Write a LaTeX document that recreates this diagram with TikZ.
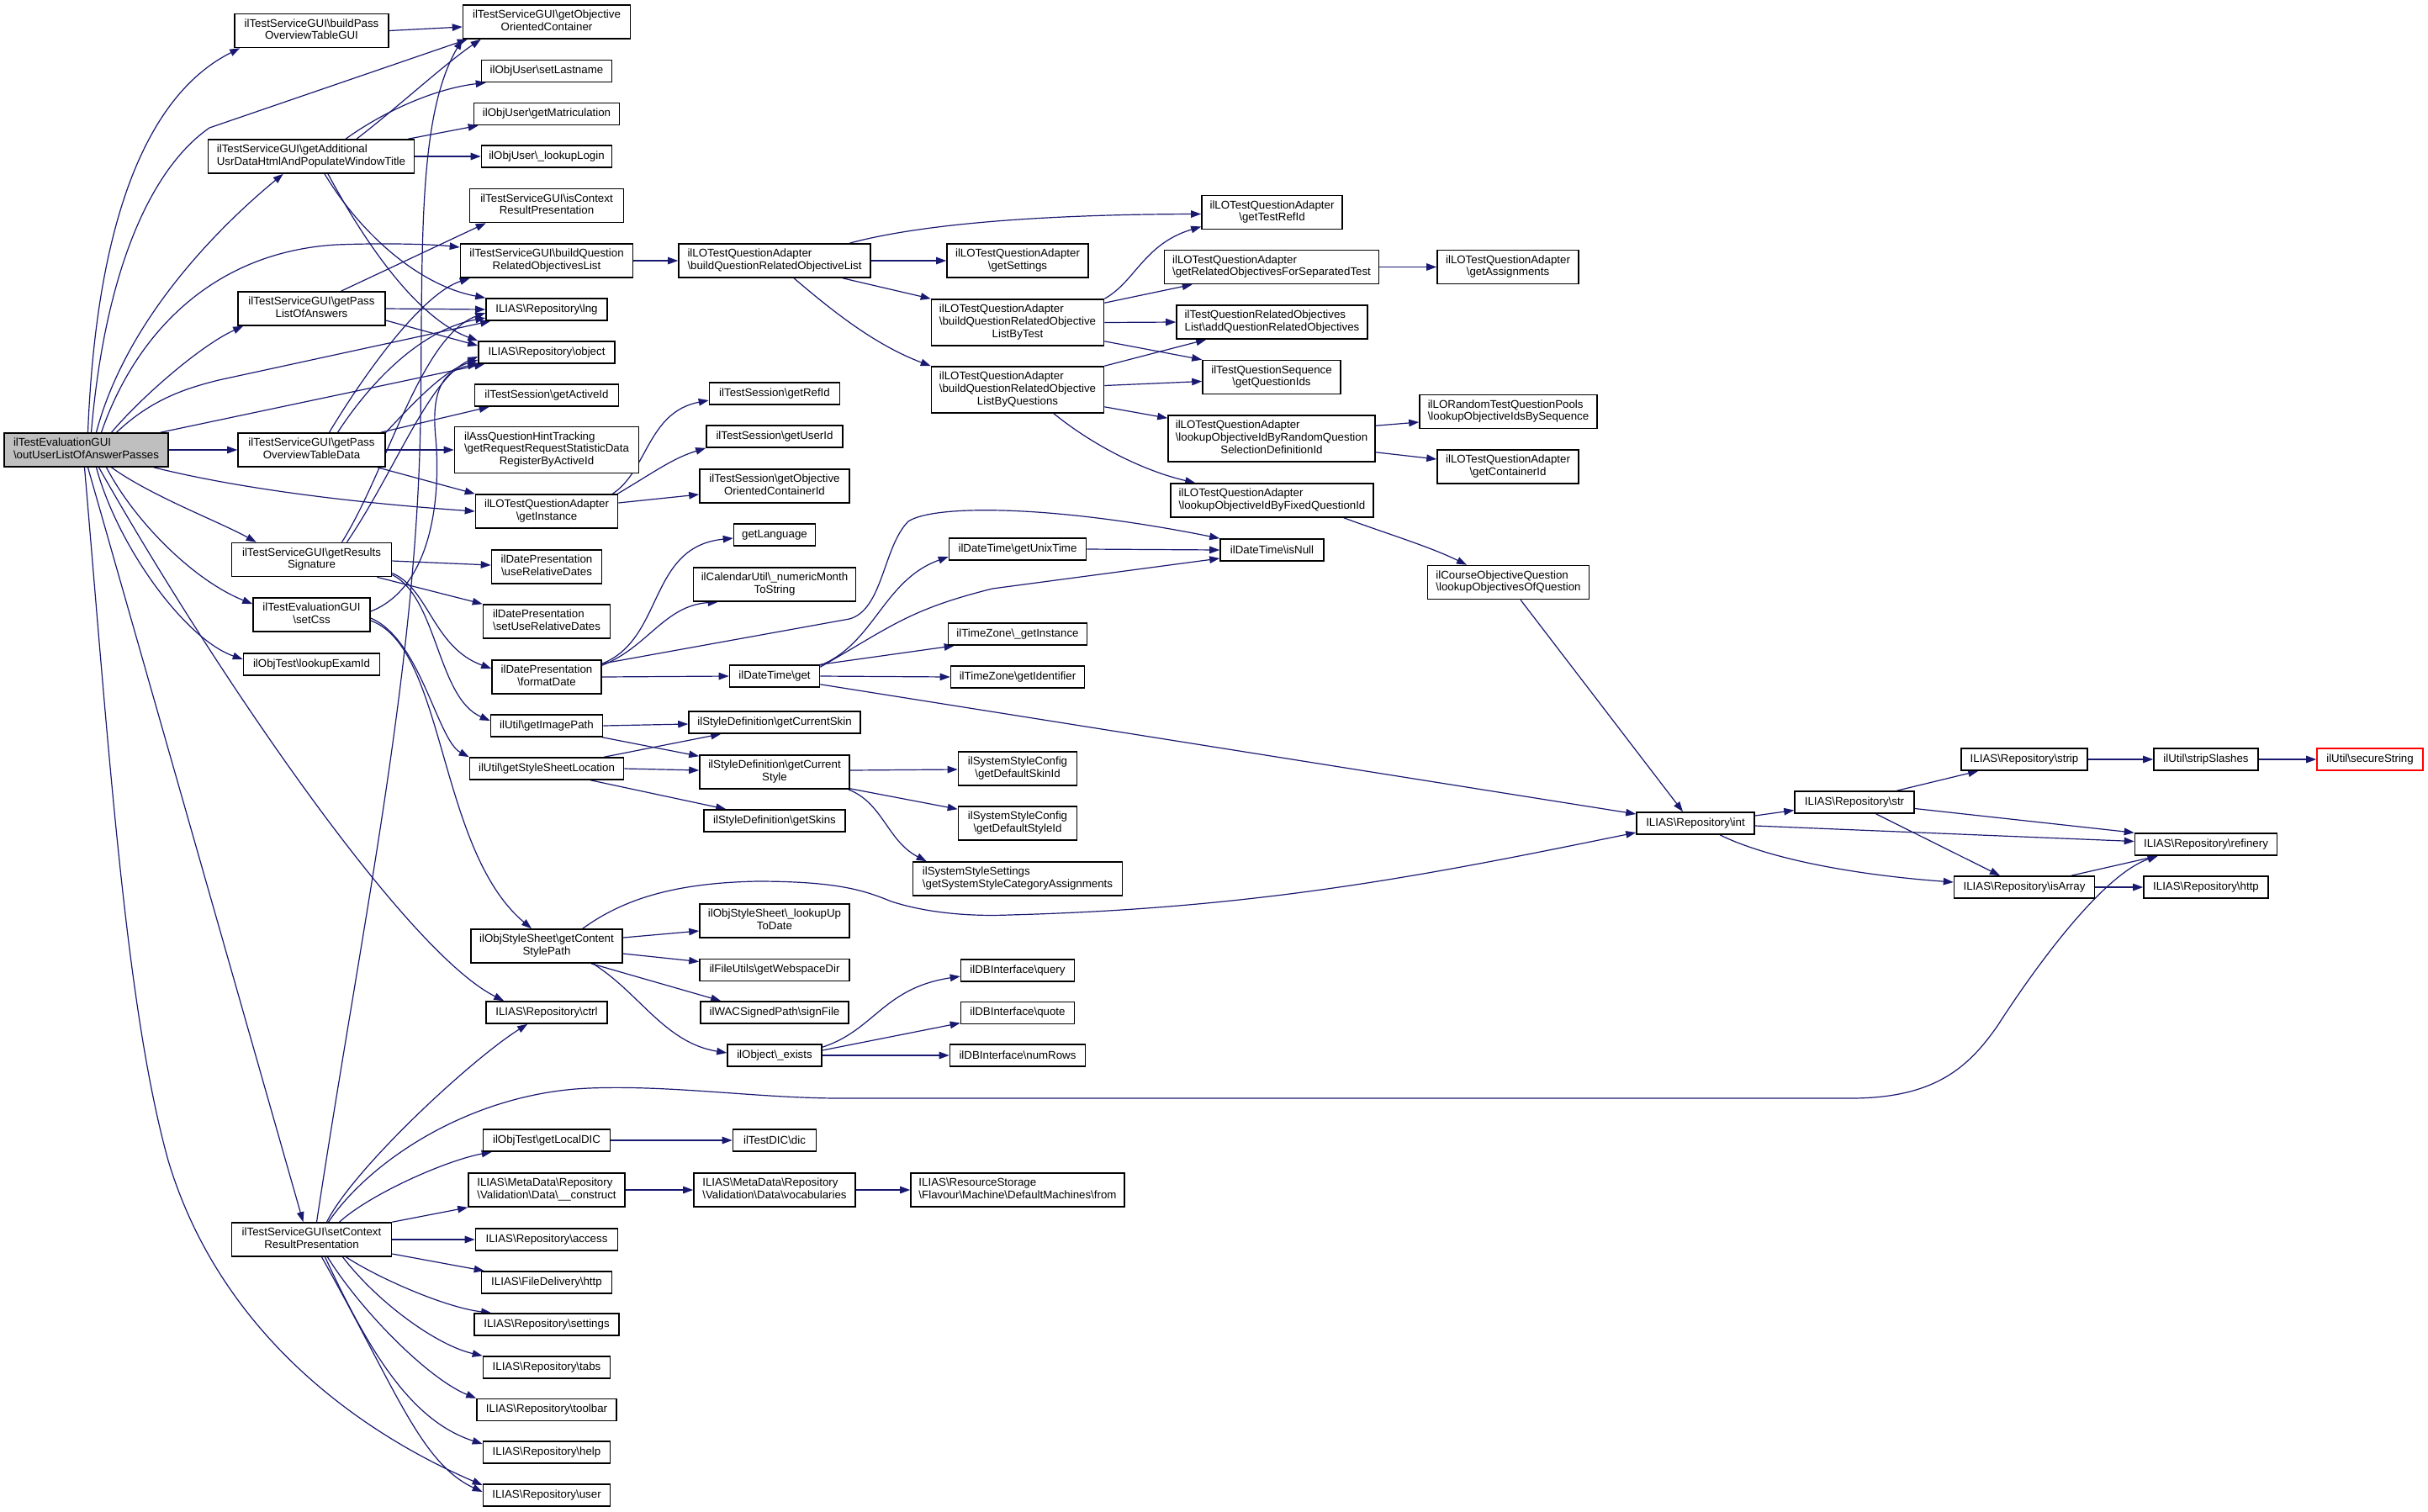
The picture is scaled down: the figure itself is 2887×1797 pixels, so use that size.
\documentclass[tikz,border=0pt]{standalone}
\usepackage{fontspec}
\setmainfont{Liberation Sans}
\usetikzlibrary{arrows.meta,calc}
\definecolor{edgecol}{HTML}{191970}
\definecolor{rootfill}{HTML}{BFBFBF}
\newcommand\BSL{\textbackslash}
\newcommand\twol[2]{\begin{tabular}{@{}l@{}}#1\\\multicolumn{1}{@{}c@{}}{#2}\end{tabular}}
\newcommand\threel[3]{\begin{tabular}{@{}l@{}}#1\\#2\\\multicolumn{1}{@{}c@{}}{#3}\end{tabular}}
\pgfdeclarelayer{bg}
\pgfsetlayers{bg,main}
\tikzset{
 box/.style={draw=black, line width=1.6pt, fill=white, inner sep=0pt, minimum height=26pt, font=\fontsize{13.3}{14.6}\selectfont, anchor=center},
 boxb/.style={box, minimum height=40pt},
 boxc/.style={box, minimum height=55pt},
 e/.style={draw=edgecol, line width=1.2pt, -{Triangle[length=12pt,width=8.5pt]}},
}
\begin{document}
\begin{tikzpicture}[x=1pt,y=-1pt]
\useasboundingbox (0,0) rectangle (2887,1797);
% rank 0
\node[boxb, fill=rootfill, minimum width=195pt] (root) at (102.5,535) {\twol{ilTestEvaluationGUI}{\BSL outUserListOfAnswerPasses}};
% rank 1
\node[boxb, minimum width=183pt] (bp) at (370.5,36.5) {\twol{ilTestServiceGUI\BSL buildPass}{OverviewTableGUI}};
\node[boxb, minimum width=245pt] (ga) at (370,186) {\twol{ilTestServiceGUI\BSL getAdditional}{UsrDataHtmlAndPopulateWindowTitle}};
\node[boxb, minimum width=175pt] (pl) at (370.5,367) {\twol{ilTestServiceGUI\BSL getPass}{ListOfAnswers}};
\node[boxb, minimum width=175pt] (po) at (370.5,535) {\twol{ilTestServiceGUI\BSL getPass}{OverviewTableData}};
\node[boxb, minimum width=190pt] (rs) at (370.5,665.5) {\twol{ilTestServiceGUI\BSL getResults}{Signature}};
\node[boxb, minimum width=139pt] (sc) at (370.5,731) {\twol{ilTestEvaluationGUI}{\BSL setCss}};
\node[box, minimum width=162pt] (le) at (370.5,790) {ilObjTest\BSL lookupExamId};
\node[boxb, minimum width=190pt] (cr) at (370.5,1474) {\twol{ilTestServiceGUI\BSL setContext}{ResultPresentation}};
% rank 2
\node[boxb, minimum width=199pt] (oc) at (650,26) {\twol{ilTestServiceGUI\BSL getObjective}{OrientedContainer}};
\node[box, minimum width=155pt] (sl) at (650,84.5) {ilObjUser\BSL setLastname};
\node[box, minimum width=173pt] (gm) at (650,135.5) {ilObjUser\BSL getMatriculation};
\node[box, minimum width=155pt] (ll) at (650,186) {ilObjUser\BSL\_lookupLogin};
\node[boxb, minimum width=183pt] (ic) at (650,244.5) {\twol{ilTestServiceGUI\BSL isContext}{ResultPresentation}};
\node[boxb, minimum width=205pt] (bq) at (650,310) {\twol{ilTestServiceGUI\BSL buildQuestion}{RelatedObjectivesList}};
\node[box, minimum width=144pt] (lng) at (650,368) {ILIAS\BSL Repository\BSL lng};
\node[box, minimum width=162pt] (obj) at (650,419) {ILIAS\BSL Repository\BSL object};
\node[box, minimum width=171pt] (ai) at (650,470) {ilTestSession\BSL getActiveId};
\node[boxc, minimum width=219pt] (ah) at (650,535) {\threel{ilAssQuestionHintTracking}{\BSL getRequestRequestStatisticData}{RegisterByActiveId}};
\node[boxb, minimum width=169pt] (gi) at (650,608) {\twol{ilLOTestQuestionAdapter}{\BSL getInstance}};
\node[boxb, minimum width=131pt] (ur) at (650,674) {\twol{ilDatePresentation}{\BSL useRelativeDates}};
\node[boxb, minimum width=151pt] (su) at (650,739) {\twol{ilDatePresentation}{\BSL setUseRelativeDates}};
\node[boxb, minimum width=130pt] (fd) at (650,805) {\twol{ilDatePresentation}{\BSL formatDate}};
\node[box, minimum width=133pt] (ip) at (650,863) {ilUtil\BSL getImagePath};
\node[box, minimum width=183pt] (ss) at (650,914) {ilUtil\BSL getStyleSheetLocation};
\node[boxb, minimum width=180pt] (cs) at (650,1125) {\twol{ilObjStyleSheet\BSL getContent}{StylePath}};
\node[box, minimum width=144pt] (ctrl) at (650,1204) {ILIAS\BSL Repository\BSL ctrl};
\node[box, minimum width=151pt] (ld) at (650,1356) {ilObjTest\BSL getLocalDIC};
\node[boxb, minimum width=186pt] (mc) at (650,1415) {\twol{ILIAS\BSL MetaData\BSL Repository}{\BSL Validation\BSL Data\BSL\_\_construct}};
\node[box, minimum width=169pt] (acc) at (650,1474) {ILIAS\BSL Repository\BSL access};
\node[box, minimum width=155pt] (fh) at (650,1525) {ILIAS\BSL FileDelivery\BSL http};
\node[box, minimum width=172pt] (set) at (650,1575) {ILIAS\BSL Repository\BSL settings};
\node[box, minimum width=151pt] (tabs) at (650,1626) {ILIAS\BSL Repository\BSL tabs};
\node[box, minimum width=166pt] (tb) at (650,1676.5) {ILIAS\BSL Repository\BSL toolbar};
\node[box, minimum width=151pt] (help) at (650,1727) {ILIAS\BSL Repository\BSL help};
\node[box, minimum width=151pt] (user) at (650,1778) {ILIAS\BSL Repository\BSL user};
% rank 3
\node[boxb, minimum width=228pt] (bl) at (921,310) {\twol{ilLOTestQuestionAdapter}{\BSL buildQuestionRelatedObjectiveList}};
\node[box, minimum width=155pt] (sri) at (921,468) {ilTestSession\BSL getRefId};
\node[box, minimum width=162pt] (sui) at (921,519) {ilTestSession\BSL getUserId};
\node[boxb, minimum width=178pt] (soc) at (921,578) {\twol{ilTestSession\BSL getObjective}{OrientedContainerId}};
\node[box, minimum width=97pt] (lang) at (921,636) {getLanguage};
\node[boxb, minimum width=193pt] (nm) at (921,695) {\twol{ilCalendarUtil\BSL\_numericMonth}{ToString}};
\node[box, minimum width=107pt] (dtg) at (921,804) {ilDateTime\BSL get};
\node[box, minimum width=204pt] (csk) at (921,859) {ilStyleDefinition\BSL getCurrentSkin};
\node[boxb, minimum width=178pt] (cst) at (921,918) {\twol{ilStyleDefinition\BSL getCurrent}{Style}};
\node[box, minimum width=168pt] (sk) at (921,976) {ilStyleDefinition\BSL getSkins};
\node[boxb, minimum width=178pt] (lu) at (921,1095) {\twol{ilObjStyleSheet\BSL\_lookupUp}{ToDate}};
\node[box, minimum width=178pt] (wd) at (921,1153.5) {ilFileUtils\BSL getWebspaceDir};
\node[box, minimum width=176pt] (sf) at (921,1204) {ilWACSignedPath\BSL signFile};
\node[box, minimum width=112pt] (ex) at (921,1255) {ilObject\BSL\_exists};
\node[box, minimum width=99pt] (dic) at (921,1356) {ilTestDIC\BSL dic};
\node[boxb, minimum width=192pt] (voc) at (921,1415) {\twol{ILIAS\BSL MetaData\BSL Repository}{\BSL Validation\BSL Data\BSL vocabularies}};
% rank 4
\node[boxb, minimum width=168pt] (gs) at (1210,310) {\twol{ilLOTestQuestionAdapter}{\BSL getSettings}};
\node[boxc, minimum width=205pt] (bt) at (1210,383.5) {\threel{ilLOTestQuestionAdapter}{\BSL buildQuestionRelatedObjective}{ListByTest}};
\node[boxc, minimum width=205pt] (bqq) at (1210,463.5) {\threel{ilLOTestQuestionAdapter}{\BSL buildQuestionRelatedObjective}{ListByQuestions}};
\node[box, minimum width=163pt] (ut) at (1210,653) {ilDateTime\BSL getUnixTime};
\node[box, minimum width=165pt] (tzi) at (1210,754) {ilTimeZone\BSL\_getInstance};
\node[box, minimum width=159pt] (tzid) at (1210,805) {ilTimeZone\BSL getIdentifier};
\node[boxb, minimum width=141pt] (dsk) at (1210,914) {\twol{ilSystemStyleConfig}{\BSL getDefaultSkinId}};
\node[boxb, minimum width=141pt] (dst) at (1210,979) {\twol{ilSystemStyleConfig}{\BSL getDefaultStyleId}};
\node[boxb, minimum width=249pt] (sca) at (1210,1045) {\twol{ilSystemStyleSettings}{\BSL getSystemStyleCategoryAssignments}};
\node[box, minimum width=135pt] (q) at (1210,1154) {ilDBInterface\BSL query};
\node[box, minimum width=135pt] (qt) at (1210,1204.5) {ilDBInterface\BSL quote};
\node[box, minimum width=161pt] (nr) at (1210,1255) {ilDBInterface\BSL numRows};
\node[boxb, minimum width=254pt] (from) at (1210,1415) {\twol{ILIAS\BSL ResourceStorage}{\BSL Flavour\BSL Machine\BSL DefaultMachines\BSL from}};
% rank 5
\node[boxb, minimum width=167pt] (tr) at (1512.5,252.5) {\twol{ilLOTestQuestionAdapter}{\BSL getTestRefId}};
\node[boxb, minimum width=255pt] (ro) at (1512,317.5) {\twol{ilLOTestQuestionAdapter}{\BSL getRelatedObjectivesForSeparatedTest}};
\node[boxb, minimum width=227pt] (aq) at (1512.5,383) {\twol{ilTestQuestionRelatedObjectives}{List\BSL addQuestionRelatedObjectives}};
\node[boxb, minimum width=164pt] (qi) at (1512,448.5) {\twol{ilTestQuestionSequence}{\BSL getQuestionIds}};
\node[boxc, minimum width=246pt] (lr) at (1512,521.5) {\threel{ilLOTestQuestionAdapter}{\BSL lookupObjectiveIdByRandomQuestion}{SelectionDefinitionId}};
\node[boxb, minimum width=241pt] (lf) at (1512.5,595) {\twol{ilLOTestQuestionAdapter}{\BSL lookupObjectiveIdByFixedQuestionId}};
\node[box, minimum width=123pt] (isn) at (1512.5,654) {ilDateTime\BSL isNull};
% rank 6
\node[boxb, minimum width=168pt] (ga2) at (1793,317.5) {\twol{ilLOTestQuestionAdapter}{\BSL getAssignments}};
\node[boxb, minimum width=211pt] (los) at (1793.5,489.5) {\twol{ilLORandomTestQuestionPools}{\BSL lookupObjectiveIdsBySequence}};
\node[boxb, minimum width=168pt] (ci) at (1793,555) {\twol{ilLOTestQuestionAdapter}{\BSL getContainerId}};
\node[boxb, minimum width=192pt] (coq) at (1793.5,692.5) {\twol{ilCourseObjectiveQuestion}{\BSL lookupObjectivesOfQuestion}};
% right part
\node[box, minimum width=140pt] (int) at (2016,979) {ILIAS\BSL Repository\BSL int};
\node[box, minimum width=142pt] (str) at (2205,954) {ILIAS\BSL Repository\BSL str};
\node[box, minimum width=150pt] (strip) at (2407,903) {ILIAS\BSL Repository\BSL strip};
\node[box, minimum width=167pt] (isArr) at (2407,1055) {ILIAS\BSL Repository\BSL isArray};
\node[box, minimum width=124pt] (sls) at (2623,903) {ilUtil\BSL stripSlashes};
\node[box, minimum width=169pt] (ref) at (2623,1004) {ILIAS\BSL Repository\BSL refinery};
\node[box, minimum width=148pt] (http) at (2623,1055) {ILIAS\BSL Repository\BSL http};
\node[box, draw=red, minimum width=126pt] (sec) at (2818,903) {ilUtil\BSL secureString};

\begin{pgfonlayer}{bg}
% root
\draw[e] ($(root.north)+(2,0)$) .. controls (115,250) and (180,110) .. ($(bp.south west)+(7,0)$);
\draw[e] ($(root.north)+(6,0)$) .. controls (125,320) and (180,200) .. (249,152) -- ($(oc.south west)+(6,0)$);
\draw[e] ($(root.north)+(12,0)$) .. controls (150,380) and (260,270) .. ($(ga.south west)+(90,0)$);
\draw[e] ($(root.north)+(18,0)$) .. controls (160,400) and (250,300) .. (400,291) .. controls (450,289) and (510,290) .. ($(bq.west)+(0,-16)$);
\draw[e] ($(root.north)+(30,0)$) .. controls (170,470) and (240,410) .. ($(pl.south west)+(7,0)$);
\draw[e] ($(root.north)+(36,0)$) .. controls (180,475) and (220,462) .. (260,452) -- ($(lng.south west)+(6,0)$);
\draw[e] ($(root.north east)+(-10,0)$) -- ($(obj.south west)+(8,0)$);
\draw[e] (root.east) -- (po.west);
\draw[e] ($(root.south east)+(-18,0)$) .. controls (300,585) and (450,600) .. (gi.west);
\draw[e] ($(root.south)+(30,0)$) .. controls (180,590) and (260,620) .. ($(rs.north west)+(30,0)$);
\draw[e] ($(root.south)+(24,0)$) .. controls (160,620) and (230,690) .. ($(sc.north west)+(0,8)$);
\draw[e] ($(root.south)+(12,0)$) .. controls (140,650) and (220,760) .. ($(le.west)+(0,-6)$);
\draw[e] ($(root.south)+(15,0)$) .. controls (250,790) and (480,1130) .. ($(ctrl.north west)+(22,0)$);
\draw[e] ($(root.south)+(2,0)$) -- ($(cr.north)+(-10,0)$);
\draw[e] ($(root.south)+(-2,0)$) .. controls (130,900) and (150,1200) .. (200,1380) .. controls (260,1580) and (420,1700) .. ($(user.west)+(0,-12)$);
% bp
\draw[e] (bp.east) -- ($(oc.west)+(0,6)$);
% ga
\draw[e] ($(ga.north)+(54,0)$) .. controls (470,130) and (530,75) .. ($(oc.south west)+(22,0)$);
\draw[e] ($(ga.north)+(41,0)$) .. controls (460,130) and (520,105) .. ($(sl.south west)+(6,0)$);
\draw[e] ($(ga.north east)+(-8,0)$) -- ($(gm.south west)+(6,0)$);
\draw[e] (ga.east) -- (ll.west);
\draw[e] ($(ga.south)+(16,0)$) .. controls (430,280) and (500,340) .. (lng.north west);
\draw[e] ($(ga.south)+(20,0)$) .. controls (440,300) and (500,380) .. (obj.north west);
% pl
\draw[e] ($(pl.north)+(35,0)$) -- ($(ic.south west)+(20,0)$);
\draw[e] (pl.east) -- (lng.west);
\draw[e] ($(pl.east)+(0,14)$) -- ($(obj.west)+(0,-8)$);
% po
\draw[e] ($(po.north east)+(-6,0)$) -- ($(ai.south west)+(18,0)$);
\draw[e] (po.east) -- (ah.west);
\draw[e] ($(po.south east)+(-10,0)$) -- (gi.north west);
\draw[e] ($(po.north)+(21,0)$) .. controls (430,450) and (500,350) .. ($(bq.south west)+(12,0)$);
\draw[e] ($(po.north)+(31,0)$) .. controls (450,440) and (510,390) .. ($(lng.west)+(0,10)$);
\draw[e] (po.north east) .. controls (500,470) and (530,440) .. ($(obj.west)+(0,9)$);
% rs
\draw[e] ($(rs.north)+(36,0)$) .. controls (460,560) and (500,400) .. ($(lng.west)+(0,4)$);
\draw[e] ($(rs.north)+(42,0)$) .. controls (470,560) and (510,450) .. ($(obj.west)+(0,5)$);
\draw[e] ($(rs.east)+(0,1.5)$) -- ($(ur.west)+(0,-2)$);
\draw[e] ($(rs.south east)+(-18,0)$) -- (su.north west);
\draw[e] ($(rs.east)+(0,16)$) .. controls (510,700) and (515,770) .. ($(fd.west)+(0,-10)$);
\draw[e] ($(rs.east)+(0,18)$) .. controls (520,710) and (520,830) .. ($(ip.west)+(0,-6)$);
% sc
\draw[e] ($(sc.east)+(0,-4)$) .. controls (510,700) and (525,600) .. (518,520) .. controls (512,460) and (530,440) .. (obj.south west);
\draw[e] ($(sc.east)+(0,4)$) .. controls (500,760) and (520,880) .. (ss.north west);
\draw[e] ($(sc.east)+(0,7)$) .. controls (530,770) and (520,1010) .. ($(cs.north)+(-18,0)$);
% cr
\draw[e] ($(cr.north)+(6,0)$) .. controls (430,1100) and (495,800) .. (500,500) .. controls (503,300) and (495,140) .. (oc.south west);
\draw[e] ($(cr.north)+(18,0)$) .. controls (420,1390) and (560,1260) .. ($(ctrl.south west)+(50,0)$);
\draw[e] ($(cr.north)+(20,0)$) .. controls (440,1380) and (560,1300) .. (700,1294) .. controls (800,1290) and (900,1306) .. (1000,1306) -- (2200,1306) .. controls (2300,1306) and (2340,1270) .. (2375,1220) .. controls (2420,1150) and (2500,1040) .. ($(ref.south west)+(28,0)$);
\draw[e] ($(cr.north)+(33,0)$) .. controls (440,1420) and (530,1380) .. ($(ld.south west)+(11,0)$);
\draw[e] (cr.north east) -- (mc.south west);
\draw[e] (cr.east) -- (acc.west);
\draw[e] ($(cr.east)+(0,17)$) -- ($(fh.north west)+(4,0)$);
\draw[e] ($(cr.south)+(41,0)$) .. controls (450,1520) and (530,1555) .. ($(set.north west)+(21,0)$);
\draw[e] ($(cr.south)+(37,0)$) .. controls (450,1550) and (520,1600) .. (tabs.north west);
\draw[e] ($(cr.south)+(19,0)$) .. controls (430,1560) and (510,1640) .. (tb.north west);
\draw[e] ($(cr.south)+(16,0)$) .. controls (440,1610) and (490,1690) .. ($(help.west)+(0,-10)$);
\draw[e] ($(cr.south)+(12,0)$) .. controls (470,1650) and (500,1740) .. ($(user.west)+(0,-4)$);
% rank 2 -> 3
\draw[e] (bq.east) -- (bl.west);
\draw[e] ($(gi.north east)+(-7,0)$) .. controls (770,560) and (770,490) .. ($(sri.west)+(0,8)$);
\draw[e] ($(gi.north east)+(-1,0)$) .. controls (780,560) and (800,545) .. (sui.south west);
\draw[e] ($(gi.east)+(0,-10)$) -- ($(soc.west)+(0,10)$);
\draw[e] ($(fd.north east)+(0,5)$) .. controls (790,760) and (770,650) .. ($(lang.west)+(0,4)$);
\draw[e] ($(fd.north east)+(0,7)$) .. controls (770,770) and (790,720) .. ($(nm.south west)+(30,0)$);
\draw[e] ($(fd.north east)+(0,5)$) -- (1010,736) .. controls (1050,725) and (1050,650) .. (1080,620) .. controls (1110,600) and (1250,600) .. (isn.north west);
\draw[e] (fd.east) -- (dtg.west);
\draw[e] (ip.east) -- ($(csk.west)+(0,2)$);
\draw[e] ($(ip.south east)+(-1,0)$) -- ($(cst.north west)+(0,2)$);
\draw[e] ($(ss.north east)+(-24,0)$) -- ($(csk.south west)+(39,0)$);
\draw[e] (ss.east) -- ($(cst.west)+(0,-2)$);
\draw[e] ($(ss.south east)+(-40,0)$) -- ($(sk.north west)+(27,0)$);
\draw[e] ($(cs.east)+(0,-10)$) -- ($(lu.west)+(0,12)$);
\draw[e] ($(cs.east)+(0,9)$) -- ($(wd.west)+(0,-10)$);
\draw[e] ($(cs.south east)+(-38,0)$) -- ($(sf.north west)+(25,0)$);
\draw[e] ($(cs.south east)+(-36,0)$) .. controls (760,1180) and (790,1240) .. ($(ex.west)+(0,-3)$);
\draw[e] ($(cs.north east)+(-48,0)$) .. controls (740,1070) and (800,1050) .. (900,1048) .. controls (1000,1048) and (1030,1060) .. (1060,1072) .. controls (1100,1085) and (1150,1090) .. (1200,1088) .. controls (1500,1080) and (1700,1040) .. ($(int.west)+(0,11)$);
\draw[e] (ld.east) -- (dic.west);
\draw[e] (mc.east) -- (voc.west);
% rank 3 -> 4
\draw[e] ($(bl.north)+(89,0)$) .. controls (1100,265) and (1250,255) .. ($(tr.west)+(0,2)$);
\draw[e] (bl.east) -- (gs.west);
\draw[e] ($(bl.south)+(81,0)$) -- (bt.north west);
\draw[e] ($(bl.south)+(23,0)$) .. controls (990,370) and (1040,410) .. (bqq.north west);
\draw[e] ($(dtg.north east)+(0,1)$) .. controls (1040,765) and (1050,690) .. ($(ut.west)+(0,9)$);
\draw[e] ($(dtg.north east)+(0,3)$) .. controls (1060,745) and (1080,725) .. (1180,700) -- ($(isn.west)+(0,10)$);
\draw[e] (dtg.north east) -- ($(tzi.south west)+(8,0)$);
\draw[e] (dtg.east) -- (tzid.west);
\draw[e] ($(dtg.south east)+(0,-4)$) -- ($(int.west)+(0,-11)$);
\draw[e] ($(cst.east)+(0,-2)$) -- ($(dsk.west)+(0,1)$);
\draw[e] ($(cst.south east)+(0,-1)$) -- ($(dst.north west)+(0,4)$);
\draw[e] ($(cst.south east)+(-2,0)$) .. controls (1050,955) and (1055,1000) .. ($(sca.north west)+(17,0)$);
\draw[e] ($(ex.north east)+(0,4)$) .. controls (1040,1225) and (1050,1175) .. ($(q.west)+(0,7)$);
\draw[e] ($(ex.east)+(0,-6)$) -- ($(qt.west)+(0,12)$);
\draw[e] (ex.east) -- (nr.west);
\draw[e] (voc.east) -- (from.west);
% rank 4 -> 5
\draw[e] (bt.north east) .. controls (1350,335) and (1360,290) .. ($(tr.west)+(0,17)$);
\draw[e] ($(bt.north east)+(0,5)$) -- ($(ro.south west)+(34,0)$);
\draw[e] (bt.east) -- (aq.west);
\draw[e] ($(bt.south east)+(0,-6)$) -- (qi.north west);
\draw[e] (bqq.north east) -- ($(aq.south west)+(36,0)$);
\draw[e] ($(bqq.east)+(0,-5)$) -- ($(qi.west)+(0,5)$);
\draw[e] ($(bqq.south east)+(0,-8)$) -- ($(lr.north west)+(0,4)$);
\draw[e] ($(bqq.south)+(43,0)$) .. controls (1300,530) and (1360,560) .. ($(lf.north west)+(30,0)$);
\draw[e] (ut.east) -- (isn.west);
% rank 5 -> 6
\draw[e] (ro.east) -- (ga2.west);
\draw[e] ($(lr.north east)+(0,13)$) -- ($(los.west)+(0,12.5)$);
\draw[e] ($(lr.south east)+(0,-12)$) -- ($(ci.west)+(0,-9)$);
\draw[e] ($(lf.south east)+(-36,0)$) .. controls (1650,635) and (1700,650) .. ($(coq.north)+(-49.5,0)$);
\draw[e] ($(coq.south)+(14.5,0)$) -- ($(int.north)+(-15,0)$);
% right part
\draw[e] ($(int.east)+(0,-9)$) -- ($(str.west)+(0,9.5)$);
\draw[e] ($(int.east)+(0,3)$) -- ($(ref.west)+(0,-3.5)$);
\draw[e] ($(int.south)+(29,0)$) .. controls (2100,1020) and (2200,1040) .. ($(isArr.west)+(0,-6)$);
\draw[e] ($(str.north)+(50.5,0)$) -- ($(strip.south west)+(21,0)$);
\draw[e] ($(str.east)+(0,7.5)$) -- (ref.north west);
\draw[e] ($(str.south)+(25.5,0)$) -- ($(isArr.north)+(-29,0)$);
\draw[e] (strip.east) -- (sls.west);
\draw[e] (sls.east) -- (sec.west);
\draw[e] ($(isArr.north east)+(-28.5,0)$) -- ($(ref.south west)+(28,0)$);
\draw[e] (isArr.east) -- (http.west);
\end{pgfonlayer}
\end{tikzpicture}
\end{document}
